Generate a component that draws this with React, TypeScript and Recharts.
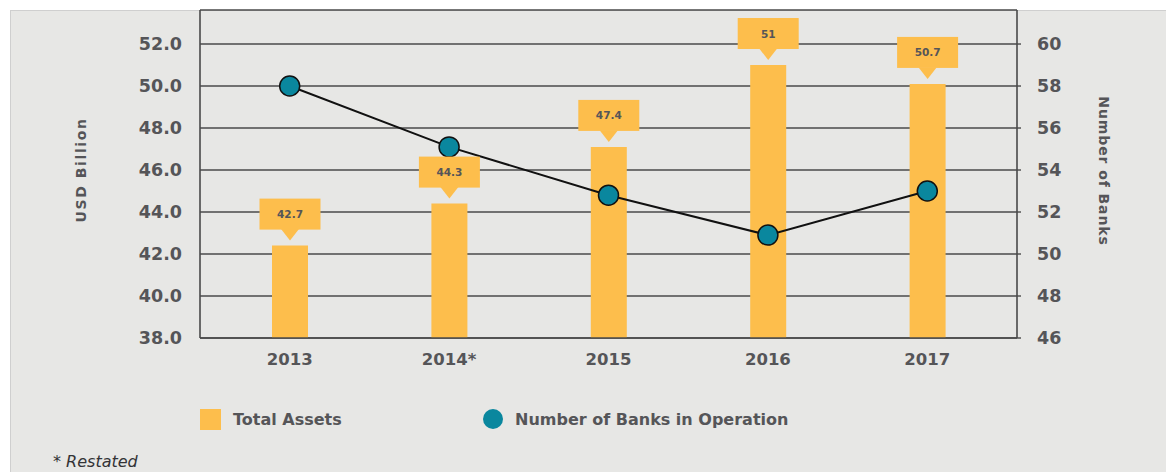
import React from "react";
import {
  ComposedChart,
  Bar,
  Line,
  XAxis,
  YAxis,
  CartesianGrid,
  LabelList,
} from "recharts";

const years = ["2013", "2014*", "2015", "2016", "2017"];
const totalAssets = [42.4, 44.4, 47.1, 51.0, 50.1];
const assetLabels = ["42.7", "44.3", "47.4", "51", "50.7"];
const banks = [58, 55.1, 52.8, 50.9, 53];
const leftTicks = [38, 40, 42, 44, 46, 48, 50, 52];
const rightTicks = [46, 48, 50, 52, 54, 56, 58, 60];

const data = years.map((y, i) => ({
  year: y,
  assets: totalAssets[i],
  banks: banks[i],
}));

const FONT = "'DejaVu Sans', sans-serif";
const TEXT = "#555558";
const BAR = "#FDBE4C";
const TEAL = "#0A879E";
const W = 1166;
const H = 472;

const Callout = (props: any) => {
  const { x, y, width, index } = props;
  const cx = x + width / 2;
  const tip = y - 5;
  const triH = 11;
  const boxH = 31;
  const boxW = 61;
  const boxBottom = tip - triH;
  const boxTop = boxBottom - boxH;
  return (
    <g>
      <rect x={cx - boxW / 2} y={boxTop} width={boxW} height={boxH} fill={BAR} />
      <path
        d={`M${cx - 9},${boxBottom - 0.5} L${cx + 9},${boxBottom - 0.5} L${cx},${tip} Z`}
        fill={BAR}
      />
      <text
        x={cx}
        y={boxTop + boxH / 2 + 1}
        textAnchor="middle"
        dominantBaseline="middle"
        fontFamily={FONT}
        fontWeight={700}
        fontSize={10.5}
        fill={TEXT}
      >
        {assetLabels[index]}
      </text>
    </g>
  );
};

export default function App() {
  return (
    <div
      style={{
        position: "absolute",
        left: 0,
        top: 0,
        width: W,
        height: H,
        background: "#ffffff",
        overflow: "hidden",
      }}
    >
      <div
        style={{
          position: "absolute",
          left: 10,
          top: 10,
          width: W - 10,
          height: H - 10,
          background: "#e7e7e5",
          borderTop: "1px solid #cfcfcf",
          borderLeft: "1px solid #cfcfcf",
          boxSizing: "border-box",
        }}
      />
      <div style={{ position: "absolute", left: 0, top: 0 }}>
        <ComposedChart
          width={W}
          height={H}
          data={data}
          margin={{ top: 10, left: 140, right: 89, bottom: 104 }}
        >
          <CartesianGrid
            yAxisId="left"
            horizontal={true}
            vertical={false}
            stroke="#4a4a4a"
            strokeWidth={1.4}
          />
          <XAxis
            dataKey="year"
            padding={{ left: 10, right: 10 }}
            axisLine={{ stroke: "#4a4a4a", strokeWidth: 1.6 }}
            tickLine={false}
            tickSize={0}
            tickMargin={15}
            height={30}
            tick={{ fill: TEXT, fontFamily: FONT, fontWeight: 700, fontSize: 16.5 }}
          />
          <YAxis
            yAxisId="left"
            orientation="left"
            domain={[38, 53.62]}
            ticks={leftTicks}
            allowDataOverflow
            width={60}
            axisLine={{ stroke: "#4a4a4a", strokeWidth: 1.6 }}
            tickLine={false}
            tickSize={0}
            tickMargin={18}
            tickFormatter={(v: number) => v.toFixed(1)}
            tick={{ fill: TEXT, fontFamily: FONT, fontWeight: 700, fontSize: 17.5 }}
          />
          <YAxis
            yAxisId="right"
            orientation="right"
            domain={[46, 61.62]}
            ticks={rightTicks}
            allowDataOverflow
            width={60}
            axisLine={{ stroke: "#4a4a4a", strokeWidth: 1.6 }}
            tickLine={{ stroke: "#4a4a4a", strokeWidth: 1.4 }}
            tickSize={4}
            tickMargin={16}
            tick={{ fill: TEXT, fontFamily: FONT, fontWeight: 700, fontSize: 17.5 }}
          />
          <Bar
            yAxisId="left"
            dataKey="assets"
            fill={BAR}
            barSize={36}
            isAnimationActive={false}
          >
            <LabelList dataKey="assets" content={<Callout />} />
          </Bar>
          <Line
            yAxisId="right"
            dataKey="banks"
            stroke="#111111"
            strokeWidth={2}
            dot={{ r: 10, fill: TEAL, stroke: "#111111", strokeWidth: 1.5 }}
            isAnimationActive={false}
          />
        </ComposedChart>
      </div>
      <svg
        width={W}
        height={H}
        style={{ position: "absolute", left: 0, top: 0, pointerEvents: "none" }}
      >
        <text
          transform="translate(82,170) rotate(-90)"
          textAnchor="middle"
          dominantBaseline="middle"
          fontFamily={FONT}
          fontWeight={700}
          fontSize={14}
          letterSpacing={1.6}
          fill={TEXT}
        >
          USD Billion
        </text>
        <text
          transform="translate(1103,171) rotate(90)"
          textAnchor="middle"
          dominantBaseline="middle"
          fontFamily={FONT}
          fontWeight={700}
          fontSize={14}
          letterSpacing={0.9}
          fill={TEXT}
        >
          Number of Banks
        </text>
        <rect x={200} y={409} width={21} height={21} fill={BAR} />
        <text
          x={233}
          y={420}
          dominantBaseline="middle"
          fontFamily={FONT}
          fontWeight={700}
          fontSize={16}
          fill={TEXT}
        >
          Total Assets
        </text>
        <circle cx={493} cy={419} r={10} fill={TEAL} />
        <text
          x={515}
          y={420}
          dominantBaseline="middle"
          fontFamily={FONT}
          fontWeight={700}
          fontSize={16}
          fill={TEXT}
        >
          Number of Banks in Operation
        </text>
        <text
          x={53}
          y={462}
          dominantBaseline="middle"
          fontFamily={FONT}
          fontStyle="italic"
          fontSize={16}
          fill="#333336"
        >
          * Restated
        </text>
      </svg>
    </div>
  );
}
